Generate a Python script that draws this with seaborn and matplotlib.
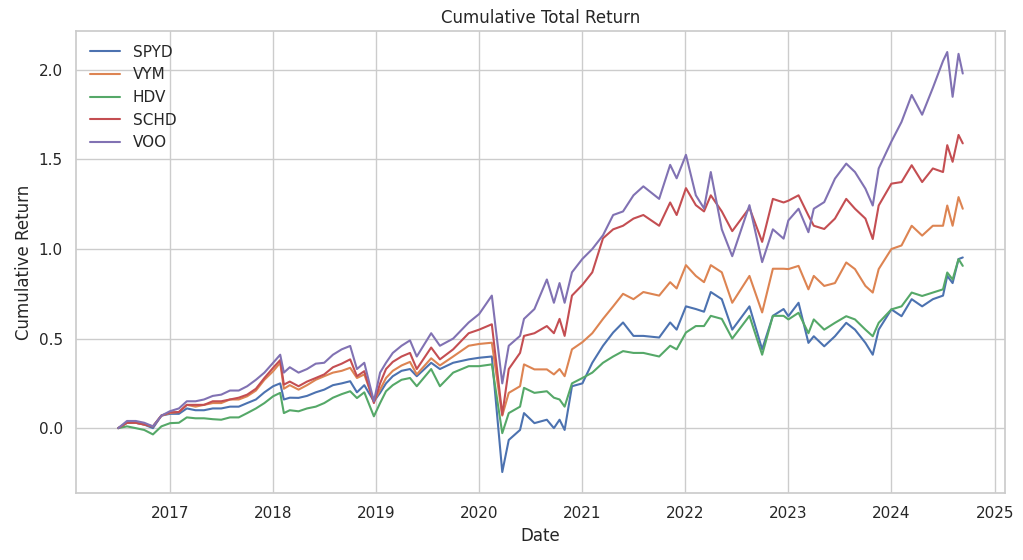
import pandas as pd
import seaborn as sns
import matplotlib
matplotlib.use("Agg")
from matplotlib import pyplot as plt

# 读图估计的累计收益（近似月度采样 + 几个关键拐点）
dates = ["2016-07-01", "2016-08-01", "2016-09-01", "2016-10-01", "2016-11-01", "2016-12-01",
         "2017-01-01", "2017-02-01", "2017-03-01", "2017-04-01", "2017-05-01", "2017-06-01",
         "2017-07-01", "2017-08-01", "2017-09-01", "2017-10-01", "2017-11-01", "2017-12-01",
         "2018-01-01", "2018-01-26", "2018-02-08", "2018-03-01", "2018-04-01", "2018-05-01",
         "2018-06-01", "2018-07-01", "2018-08-01", "2018-09-01", "2018-10-01", "2018-10-25",
         "2018-11-20", "2018-12-24", "2019-01-15", "2019-02-05", "2019-03-01", "2019-04-01",
         "2019-05-01", "2019-05-25", "2019-07-15", "2019-08-15", "2019-10-01", "2019-11-25",
         "2020-01-01", "2020-02-15", "2020-03-23", "2020-04-15", "2020-05-25", "2020-06-08",
         "2020-07-15", "2020-08-28", "2020-09-22", "2020-10-12", "2020-10-30", "2020-11-25",
         "2021-01-01", "2021-02-05", "2021-03-15", "2021-04-20", "2021-05-25", "2021-07-01",
         "2021-08-05", "2021-09-30", "2021-11-08", "2021-12-01", "2022-01-03", "2022-02-07",
         "2022-03-08", "2022-04-01", "2022-05-10", "2022-06-16", "2022-08-16", "2022-09-30",
         "2022-11-07", "2022-12-15", "2023-01-01", "2023-02-06", "2023-03-13", "2023-04-01",
         "2023-05-08", "2023-06-15", "2023-07-25", "2023-08-25", "2023-10-01", "2023-10-27",
         "2023-11-17", "2024-01-01", "2024-02-06", "2024-03-13", "2024-04-19", "2024-05-27",
         "2024-07-02", "2024-07-17", "2024-08-05", "2024-08-26", "2024-09-10"]

spyd = [0.0, 0.03, 0.03, 0.02, 0.0, 0.07,
        0.08, 0.08, 0.11, 0.10, 0.10, 0.11,
        0.11, 0.12, 0.12, 0.14, 0.16, 0.20,
        0.234, 0.25, 0.16, 0.17, 0.169, 0.18,
        0.20, 0.215, 0.24, 0.25, 0.262, 0.20,
        0.24, 0.15, 0.197, 0.25, 0.29, 0.32,
        0.33, 0.29, 0.365, 0.33, 0.365, 0.384,
        0.393, 0.40, -0.245, -0.066, -0.01, 0.084,
        0.028, 0.047, 0.0, 0.047, -0.01, 0.234,
        0.25, 0.365, 0.46, 0.534, 0.59, 0.515,
        0.515, 0.506, 0.59, 0.55, 0.68, 0.665,
        0.65, 0.76, 0.72, 0.55, 0.68, 0.44,
        0.627, 0.665, 0.625, 0.70, 0.476, 0.513,
        0.457, 0.513, 0.588, 0.55, 0.476, 0.41,
        0.55, 0.663, 0.625, 0.72, 0.68, 0.72,
        0.74, 0.85, 0.81, 0.944, 0.953]

vym = [0.0, 0.03, 0.03, 0.02, 0.01, 0.07,
       0.085, 0.09, 0.13, 0.12, 0.13, 0.14,
       0.14, 0.16, 0.16, 0.178, 0.21, 0.27,
       0.318, 0.365, 0.22, 0.24, 0.215, 0.24,
       0.27, 0.29, 0.31, 0.32, 0.337, 0.28,
       0.30, 0.15, 0.215, 0.28, 0.32, 0.35,
       0.37, 0.30, 0.39, 0.35, 0.40, 0.46,
       0.47, 0.477, 0.07, 0.197, 0.234, 0.356,
       0.328, 0.328, 0.30, 0.33, 0.29, 0.44,
       0.48, 0.53, 0.61, 0.68, 0.75, 0.72,
       0.76, 0.74, 0.815, 0.78, 0.91, 0.85,
       0.815, 0.91, 0.87, 0.70, 0.85, 0.646,
       0.89, 0.89, 0.888, 0.906, 0.775, 0.85,
       0.794, 0.81, 0.925, 0.888, 0.794, 0.757,
       0.888, 1.0, 1.02, 1.13, 1.075, 1.13,
       1.13, 1.243, 1.13, 1.29, 1.225]

hdv = [0.0, 0.01, 0.0, -0.01, -0.035, 0.01,
       0.028, 0.03, 0.06, 0.055, 0.055, 0.05,
       0.047, 0.06, 0.06, 0.084, 0.11, 0.14,
       0.178, 0.197, 0.084, 0.10, 0.094, 0.11,
       0.12, 0.14, 0.17, 0.19, 0.206, 0.168,
       0.20, 0.066, 0.14, 0.206, 0.24, 0.27,
       0.28, 0.234, 0.33, 0.234, 0.31, 0.346,
       0.346, 0.356, -0.028, 0.084, 0.12, 0.225,
       0.197, 0.206, 0.17, 0.16, 0.12, 0.25,
       0.28, 0.31, 0.365, 0.40, 0.43, 0.42,
       0.42, 0.40, 0.46, 0.44, 0.534, 0.57,
       0.57, 0.627, 0.61, 0.50, 0.627, 0.41,
       0.627, 0.627, 0.607, 0.644, 0.53, 0.607,
       0.55, 0.588, 0.625, 0.607, 0.55, 0.513,
       0.588, 0.663, 0.68, 0.757, 0.738, 0.757,
       0.775, 0.869, 0.83, 0.944, 0.906]

schd = [0.0, 0.03, 0.03, 0.02, 0.01, 0.07,
        0.088, 0.09, 0.13, 0.13, 0.13, 0.15,
        0.15, 0.16, 0.17, 0.187, 0.22, 0.28,
        0.337, 0.38, 0.243, 0.26, 0.234, 0.26,
        0.28, 0.30, 0.34, 0.36, 0.384, 0.29,
        0.318, 0.14, 0.25, 0.33, 0.37, 0.40,
        0.42, 0.33, 0.45, 0.384, 0.44, 0.53,
        0.55, 0.58, 0.075, 0.33, 0.42, 0.515,
        0.53, 0.57, 0.53, 0.61, 0.515, 0.74,
        0.80, 0.87, 1.06, 1.11, 1.13, 1.17,
        1.19, 1.13, 1.26, 1.19, 1.34, 1.245,
        1.21, 1.30, 1.21, 1.10, 1.23, 1.04,
        1.28, 1.26, 1.27, 1.30, 1.187, 1.13,
        1.112, 1.17, 1.28, 1.225, 1.17, 1.056,
        1.243, 1.365, 1.374, 1.468, 1.374, 1.45,
        1.43, 1.58, 1.487, 1.637, 1.59]

voo = [0.0, 0.04, 0.04, 0.03, 0.01, 0.07,
       0.095, 0.11, 0.15, 0.15, 0.16, 0.18,
       0.187, 0.21, 0.21, 0.234, 0.27, 0.31,
       0.365, 0.41, 0.31, 0.34, 0.31, 0.33,
       0.36, 0.365, 0.41, 0.44, 0.459, 0.33,
       0.365, 0.15, 0.31, 0.365, 0.42, 0.46,
       0.49, 0.40, 0.53, 0.46, 0.50, 0.59,
       0.637, 0.74, 0.25, 0.46, 0.515, 0.61,
       0.665, 0.83, 0.70, 0.81, 0.70, 0.87,
       0.945, 1.0, 1.077, 1.19, 1.21, 1.30,
       1.35, 1.28, 1.47, 1.395, 1.526, 1.30,
       1.227, 1.43, 1.11, 0.96, 1.245, 0.927,
       1.11, 1.058, 1.16, 1.225, 1.094, 1.225,
       1.262, 1.393, 1.477, 1.43, 1.337, 1.243,
       1.45, 1.60, 1.71, 1.86, 1.75, 1.90,
       2.05, 2.10, 1.85, 2.09, 1.98]

tickers = ["SPYD", "VYM", "HDV", "SCHD", "VOO"]
series = [spyd, vym, hdv, schd, voo]

df = pd.DataFrame({"Date": pd.to_datetime(dates)})
for name, vals in zip(tickers, series):
    df[name] = vals

sns.set_theme(style="whitegrid")
colors = sns.color_palette("deep")

fig, ax = plt.subplots(figsize=(10.23, 5.6), dpi=100)
fig.subplots_adjust(left=0.0743, right=0.9824, bottom=0.1196, top=0.9446)

for i, name in enumerate(tickers):
    sns.lineplot(data=df, x="Date", y=name, label=name, color=colors[i], linewidth=1.5, ax=ax)

ax.set_title("Cumulative Total Return")
ax.set_xlabel("Date")
ax.set_ylabel("Cumulative Return")
ax.legend(loc="upper left", frameon=False)

plt.savefig("out.png", dpi=100)
